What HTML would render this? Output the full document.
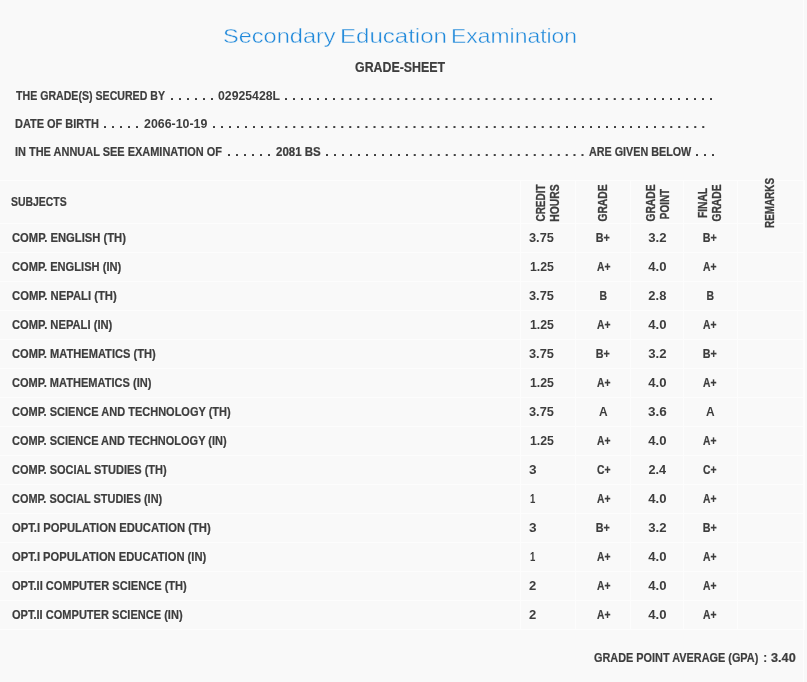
<!DOCTYPE html>
<html lang="en"><head><meta charset="utf-8"><title>Secondary Education Examination - Grade-Sheet</title>
<style>
html,body{margin:0;padding:0}
body{width:807px;height:682px;overflow:hidden;background:#f9f9f9;color:#3d3d3d;font:bold 12px 'Liberation Sans', Arial, sans-serif;position:relative;-webkit-text-stroke:0.2px #3d3d3d}
.edge{position:absolute;left:803px;top:0;width:1px;height:682px;background:#fdfdfd}
.edge2{position:absolute;left:804px;top:0;width:3px;height:682px;background:#f8f8f8}
.t{position:absolute;white-space:pre;line-height:20px;transform-origin:0 50%;display:block}
h1,h2,p{margin:0;font:inherit}
table{position:absolute;left:0;top:180px;width:804px;border-collapse:separate;border-spacing:0;table-layout:fixed;border-bottom:1px solid #fdfdfd;border-right:1px solid #fdfdfd}
th,td{padding:0;border-top:1px solid #fdfdfd;border-left:1px solid #fdfdfd;height:28px;line-height:28px;font:bold 12px/28px 'Liberation Sans', Arial, sans-serif;white-space:nowrap;text-align:center;overflow:visible}
th{height:42px;line-height:42px;position:relative;z-index:2}
th:first-child,td:first-child{border-left:0;text-align:left}
td.c{text-align:left}
td span,th span.h{display:inline-block;transform-origin:0 50%}
td.m span{transform-origin:50% 50%}
td.n{-webkit-text-stroke:0}
.r{position:absolute;white-space:nowrap;line-height:14px;height:14px;transform-origin:50% 50%;font-size:12.4px;-webkit-text-stroke:0.3px #3d3d3d}
.gpa{position:absolute}
</style></head><body>
<div class="edge"></div><div class="edge2"></div>
<h1><span class="t" style="left:223.11px;top:26.43px;font-size:20.4px;transform:scaleX(1.1554);font-weight:400;color:#2089da;-webkit-text-stroke:0.4px #f9f9f9;">Secondary</span> <span class="t" style="left:340.04px;top:26.43px;font-size:20.4px;transform:scaleX(1.1793);font-weight:400;color:#2089da;-webkit-text-stroke:0.4px #f9f9f9;">Education</span> <span class="t" style="left:450.73px;top:26.43px;font-size:20.4px;transform:scaleX(1.1235);font-weight:400;color:#2089da;-webkit-text-stroke:0.4px #f9f9f9;">Examination</span></h1>
<h2><span class="t" style="left:354.71px;top:56.95px;font-size:14px;transform:scaleX(0.8847);">GRADE-SHEET</span></h2>
<p><span class="t" style="left:16.10px;top:85.64px;font-size:12px;transform:scaleX(0.8832);">THE GRADE(S) SECURED BY</span><span class="t" style="left:169.99px;top:85.64px;font-size:12px;transform:scaleX(1.2016);-webkit-text-stroke:0;">. . . . . .</span><span class="t" style="left:217.54px;top:85.64px;font-size:12px;transform:scaleX(1.0223);-webkit-text-stroke:0;">02925428L</span><span class="t" style="left:284.49px;top:85.64px;font-size:12px;transform:scaleX(1.2027);-webkit-text-stroke:0;">. . . . . . . . . . . . . . . . . . . . . . . . . . . . . . . . . . . . . . . . . . . . . . . . . . . . . .</span></p>
<p><span class="t" style="left:15.43px;top:113.64px;font-size:12px;transform:scaleX(0.9140);">DATE OF BIRTH</span><span class="t" style="left:102.69px;top:113.64px;font-size:12px;transform:scaleX(1.1996);-webkit-text-stroke:0;">. . . . .</span><span class="t" style="left:143.83px;top:113.64px;font-size:12px;transform:scaleX(1.0324);-webkit-text-stroke:0;">2066-10-19</span><span class="t" style="left:212.49px;top:113.64px;font-size:12px;transform:scaleX(1.2028);-webkit-text-stroke:0;">. . . . . . . . . . . . . . . . . . . . . . . . . . . . . . . . . . . . . . . . . . . . . . . . . . . . . . . . . . . . . .</span></p>
<p><span class="t" style="left:15.42px;top:141.64px;font-size:12px;transform:scaleX(0.9136);">IN THE ANNUAL SEE EXAMINATION OF</span><span class="t" style="left:227.29px;top:141.64px;font-size:12px;transform:scaleX(1.2016);-webkit-text-stroke:0;">. . . . . .</span><span class="t" style="left:276.25px;top:141.64px;font-size:12px;transform:scaleX(0.9579);">2081 BS</span><span class="t" style="left:324.59px;top:141.64px;font-size:12px;transform:scaleX(1.1979);-webkit-text-stroke:0;">. . . . . . . . . . . . . . . . . . . . . . . . . . . . . . . . .</span><span class="t" style="left:589.32px;top:141.64px;font-size:12px;transform:scaleX(0.8972);">ARE GIVEN BELOW</span><span class="t" style="left:695.19px;top:141.64px;font-size:12px;transform:scaleX(1.1998);-webkit-text-stroke:0;">. . .</span></p>
<table><colgroup><col style="width:520px"><col style="width:55px"><col style="width:55px"><col style="width:53px"><col style="width:54px"><col style="width:67px"></colgroup>
<thead><tr><th><span class="h" style="margin-left:10.86px;transform:scaleX(0.8699)">SUBJECTS</span></th><th><span class="r" style="left:-2.66px;top:15.02px;transform:rotate(-90deg) scaleX(0.8053)">CREDIT</span> <span class="r" style="left:11.67px;top:14.88px;transform:rotate(-90deg) scaleX(0.8367)">HOURS</span></th><th><span class="r" style="left:4.73px;top:14.72px;transform:rotate(-90deg) scaleX(0.8264)">GRADE</span></th><th><span class="r" style="left:-2.02px;top:14.77px;transform:rotate(-90deg) scaleX(0.8286)">GRADE</span> <span class="r" style="left:15.46px;top:16.01px;transform:rotate(-90deg) scaleX(0.8006)">POINT</span></th><th><span class="r" style="left:1.21px;top:15.12px;transform:rotate(-90deg) scaleX(0.8261)">FINAL</span> <span class="r" style="left:10.88px;top:14.77px;transform:rotate(-90deg) scaleX(0.8286)">GRADE</span></th><th><span class="r" style="left:0.97px;top:15.36px;transform:rotate(-90deg) scaleX(0.7983)">REMARKS</span></th></tr></thead>
<tbody>
<tr><td><span style="margin-left:11.72px;transform:scaleX(0.9354)">COMP. ENGLISH (TH)</span></td><td class="c n"><span style="margin-left:7.57px;transform:scaleX(1.0667)">3.75</span></td><td class="m"><span style="left:0.23px;position:relative;transform:scaleX(0.8969)">B+</span></td><td class="m n"><span style="left:0.47px;position:relative;transform:scaleX(1.0988)">3.2</span></td><td class="m"><span style="left:-0.57px;position:relative;transform:scaleX(0.8969)">B+</span></td><td></td></tr>
<tr><td><span style="margin-left:11.72px;transform:scaleX(0.9272)">COMP. ENGLISH (IN)</span></td><td class="c n"><span style="margin-left:8.71px;transform:scaleX(1.0257)">1.25</span></td><td class="m"><span style="left:0.41px;position:relative;transform:scaleX(0.8586)">A+</span></td><td class="m n"><span style="left:0.76px;position:relative;transform:scaleX(1.0920)">4.0</span></td><td class="m"><span style="left:-0.39px;position:relative;transform:scaleX(0.8586)">A+</span></td><td></td></tr>
<tr><td><span style="margin-left:11.72px;transform:scaleX(0.9386)">COMP. NEPALI (TH)</span></td><td class="c n"><span style="margin-left:7.57px;transform:scaleX(1.0667)">3.75</span></td><td class="m"><span style="left:0.37px;position:relative;transform:scaleX(0.8672)">B</span></td><td class="m n"><span style="left:0.55px;position:relative;transform:scaleX(1.0765)">2.8</span></td><td class="m"><span style="left:-0.43px;position:relative;transform:scaleX(0.8672)">B</span></td><td></td></tr>
<tr><td><span style="margin-left:11.72px;transform:scaleX(0.9325)">COMP. NEPALI (IN)</span></td><td class="c n"><span style="margin-left:8.71px;transform:scaleX(1.0257)">1.25</span></td><td class="m"><span style="left:0.41px;position:relative;transform:scaleX(0.8586)">A+</span></td><td class="m n"><span style="left:0.76px;position:relative;transform:scaleX(1.0920)">4.0</span></td><td class="m"><span style="left:-0.39px;position:relative;transform:scaleX(0.8586)">A+</span></td><td></td></tr>
<tr><td><span style="margin-left:11.72px;transform:scaleX(0.9250)">COMP. MATHEMATICS (TH)</span></td><td class="c n"><span style="margin-left:7.57px;transform:scaleX(1.0667)">3.75</span></td><td class="m"><span style="left:0.23px;position:relative;transform:scaleX(0.8969)">B+</span></td><td class="m n"><span style="left:0.47px;position:relative;transform:scaleX(1.0988)">3.2</span></td><td class="m"><span style="left:-0.57px;position:relative;transform:scaleX(0.8969)">B+</span></td><td></td></tr>
<tr><td><span style="margin-left:11.72px;transform:scaleX(0.9210)">COMP. MATHEMATICS (IN)</span></td><td class="c n"><span style="margin-left:8.71px;transform:scaleX(1.0257)">1.25</span></td><td class="m"><span style="left:0.41px;position:relative;transform:scaleX(0.8586)">A+</span></td><td class="m n"><span style="left:0.76px;position:relative;transform:scaleX(1.0920)">4.0</span></td><td class="m"><span style="left:-0.39px;position:relative;transform:scaleX(0.8586)">A+</span></td><td></td></tr>
<tr><td><span style="margin-left:11.73px;transform:scaleX(0.9171)">COMP. SCIENCE AND TECHNOLOGY (TH)</span></td><td class="c n"><span style="margin-left:7.57px;transform:scaleX(1.0667)">3.75</span></td><td class="m n"><span style="left:0.46px;position:relative;transform:scaleX(0.9984)">A</span></td><td class="m n"><span style="left:0.48px;position:relative;transform:scaleX(1.1253)">3.6</span></td><td class="m n"><span style="left:-0.34px;position:relative;transform:scaleX(0.9984)">A</span></td><td></td></tr>
<tr><td><span style="margin-left:11.73px;transform:scaleX(0.9153)">COMP. SCIENCE AND TECHNOLOGY (IN)</span></td><td class="c n"><span style="margin-left:8.71px;transform:scaleX(1.0257)">1.25</span></td><td class="m"><span style="left:0.41px;position:relative;transform:scaleX(0.8586)">A+</span></td><td class="m n"><span style="left:0.76px;position:relative;transform:scaleX(1.0920)">4.0</span></td><td class="m"><span style="left:-0.39px;position:relative;transform:scaleX(0.8586)">A+</span></td><td></td></tr>
<tr><td><span style="margin-left:11.73px;transform:scaleX(0.9157)">COMP. SOCIAL STUDIES (TH)</span></td><td class="c n"><span style="margin-left:7.53px;transform:scaleX(1.1336)">3</span></td><td class="m"><span style="left:0.37px;position:relative;transform:scaleX(0.8639)">C+</span></td><td class="m n"><span style="left:0.31px;position:relative;transform:scaleX(1.0600)">2.4</span></td><td class="m"><span style="left:-0.43px;position:relative;transform:scaleX(0.8639)">C+</span></td><td></td></tr>
<tr><td><span style="margin-left:11.73px;transform:scaleX(0.9106)">COMP. SOCIAL STUDIES (IN)</span></td><td class="c n"><span style="margin-left:8.86px;transform:scaleX(0.7973)">1</span></td><td class="m"><span style="left:0.41px;position:relative;transform:scaleX(0.8586)">A+</span></td><td class="m n"><span style="left:0.76px;position:relative;transform:scaleX(1.0920)">4.0</span></td><td class="m"><span style="left:-0.39px;position:relative;transform:scaleX(0.8586)">A+</span></td><td></td></tr>
<tr><td><span style="margin-left:11.72px;transform:scaleX(0.9362)">OPT.I POPULATION EDUCATION (TH)</span></td><td class="c n"><span style="margin-left:7.53px;transform:scaleX(1.1336)">3</span></td><td class="m"><span style="left:0.23px;position:relative;transform:scaleX(0.8969)">B+</span></td><td class="m n"><span style="left:0.47px;position:relative;transform:scaleX(1.0988)">3.2</span></td><td class="m"><span style="left:-0.57px;position:relative;transform:scaleX(0.8969)">B+</span></td><td></td></tr>
<tr><td><span style="margin-left:11.72px;transform:scaleX(0.9330)">OPT.I POPULATION EDUCATION (IN)</span></td><td class="c n"><span style="margin-left:8.86px;transform:scaleX(0.7973)">1</span></td><td class="m"><span style="left:0.41px;position:relative;transform:scaleX(0.8586)">A+</span></td><td class="m n"><span style="left:0.76px;position:relative;transform:scaleX(1.0920)">4.0</span></td><td class="m"><span style="left:-0.39px;position:relative;transform:scaleX(0.8586)">A+</span></td><td></td></tr>
<tr><td><span style="margin-left:11.72px;transform:scaleX(0.9231)">OPT.II COMPUTER SCIENCE (TH)</span></td><td class="c n"><span style="margin-left:7.81px;transform:scaleX(1.0872)">2</span></td><td class="m"><span style="left:0.41px;position:relative;transform:scaleX(0.8586)">A+</span></td><td class="m n"><span style="left:0.76px;position:relative;transform:scaleX(1.0920)">4.0</span></td><td class="m"><span style="left:-0.39px;position:relative;transform:scaleX(0.8586)">A+</span></td><td></td></tr>
<tr><td><span style="margin-left:11.72px;transform:scaleX(0.9203)">OPT.II COMPUTER SCIENCE (IN)</span></td><td class="c n"><span style="margin-left:7.81px;transform:scaleX(1.0872)">2</span></td><td class="m"><span style="left:0.41px;position:relative;transform:scaleX(0.8586)">A+</span></td><td class="m n"><span style="left:0.76px;position:relative;transform:scaleX(1.0920)">4.0</span></td><td class="m"><span style="left:-0.39px;position:relative;transform:scaleX(0.8586)">A+</span></td><td></td></tr>
</tbody></table>
<div class="gpa"><span class="t" style="left:594.12px;top:647.60px;font-size:13px;transform:scaleX(0.8374);">GRADE POINT AVERAGE (GPA)</span> <span class="t" style="left:762.53px;top:647.60px;font-size:13px;transform:scaleX(1.0239);-webkit-text-stroke:0;">:</span> <span class="t" style="left:770.65px;top:647.60px;font-size:13px;transform:scaleX(0.9757);">3.40</span></div>
</body></html>
